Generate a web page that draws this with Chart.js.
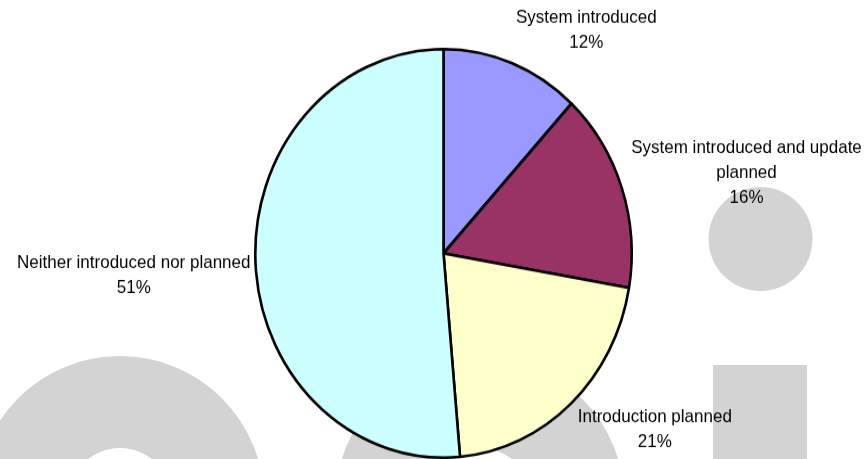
<!DOCTYPE html>
<html>
<head>
<meta charset="utf-8">
<script src="https://cdn.jsdelivr.net/npm/chart.js@4.4.1/dist/chart.umd.min.js"></script>
<style>
    html, body { margin: 0; padding: 0; background: #fff; overflow: hidden; }
    #wrap { position: relative; width: 867px; height: 459px; }
    #bg { position: absolute; left: 0; top: 0; }
    #box { position: absolute; left: 0; top: 0; width: 867px; height: 423px;
           transform: scaleY(1.0851); transform-origin: 0 0; }
</style>
</head>
<body>
<div id="wrap">
    <canvas id="bg" width="867" height="459"></canvas>
    <div id="box"><canvas id="pie" width="867" height="423"></canvas></div>
</div>
<script>
const categories = [
    'System introduced',
    'System introduced and update planned',
    'Introduction planned',
    'Neither introduced nor planned'
];
const shares = [11.9, 15.8, 20.9, 51.4];
const sliceColors = ['#9999FF', '#993366', '#FFFFCC', '#CCFFFF'];

// grey watermark shapes behind the chart
function drawBackground() {
    const ctx = document.getElementById('bg').getContext('2d');
    ctx.fillStyle = '#d3d3d3';
    [[120, 500], [480, 500]].forEach(([cx, cy]) => {
        ctx.beginPath();
        ctx.arc(cx, cy, 144, 0, Math.PI * 2);
        ctx.arc(cx, cy, 52, 0, Math.PI * 2, true);
        ctx.fill();
    });
    ctx.beginPath();
    ctx.arc(760.5, 239, 52, 0, Math.PI * 2);
    ctx.fill();
    ctx.fillRect(713, 365, 94, 94);
}

function wrapText(ctx, text, maxWidth) {
    const words = text.split(' ');
    const lines = [];
    let line = '';
    words.forEach(w => {
        const test = line ? line + ' ' + w : w;
        if (line && ctx.measureText(test).width > maxWidth) {
            lines.push(line);
            line = w;
        } else {
            line = test;
        }
    });
    lines.push(line);
    return lines;
}

// labels outside the slices, Excel style
const outsideLabels = {
    id: 'outsideLabels',
    afterDatasetsDraw(chart) {
        const ctx = chart.ctx;
        const meta = chart.getDatasetMeta(0);
        const data = chart.data.datasets[0].data;
        const lineH = 23;
        ctx.save();
        ctx.font = '17px "Liberation Sans", Arial, sans-serif';
        ctx.fillStyle = '#000';
        ctx.textBaseline = 'middle';
        meta.data.forEach((arc, i) => {
            const p = arc.getProps(['x', 'y', 'startAngle', 'endAngle', 'outerRadius'], true);
            const mid = (p.startAngle + p.endAngle) / 2;
            const side = Math.abs(Math.cos(mid)) > 0.95;
            const r = p.outerRadius + (side ? 5 : 10);
            const px = p.x + Math.cos(mid) * r;
            const py = p.y + Math.sin(mid) * r;
            const lines = wrapText(ctx, chart.data.labels[i], 240);
            lines.push(Math.round(data[i]) + '%');
            const blockH = lines.length * lineH;
            // side labels sit with their first line on the anchor
            const top = side ? py - lineH / 2
                             : py - blockH * (1 - Math.sin(mid)) / 2;
            let widest = 0;
            lines.forEach(l => { widest = Math.max(widest, ctx.measureText(l).width); });
            const left = Math.cos(mid) >= 0 ? px : px - widest;
            ctx.textAlign = 'center';
            lines.forEach((l, k) => {
                ctx.fillText(l, left + widest / 2, top + lineH / 2 + k * lineH);
            });
        });
        ctx.restore();
    }
};

drawBackground();

new Chart(document.getElementById('pie'), {
    type: 'pie',
    data: {
        labels: categories,
        datasets: [{
            data: shares,
            backgroundColor: sliceColors,
            borderColor: '#000',
            borderWidth: 2.6
        }]
    },
    options: {
        responsive: false,
        animation: false,
        layout: { padding: { left: 254, right: 234, top: 44, bottom: 0 } },
        plugins: {
            legend: { display: false },
            tooltip: { enabled: false }
        }
    },
    plugins: [outsideLabels]
});
</script>
</body>
</html>
